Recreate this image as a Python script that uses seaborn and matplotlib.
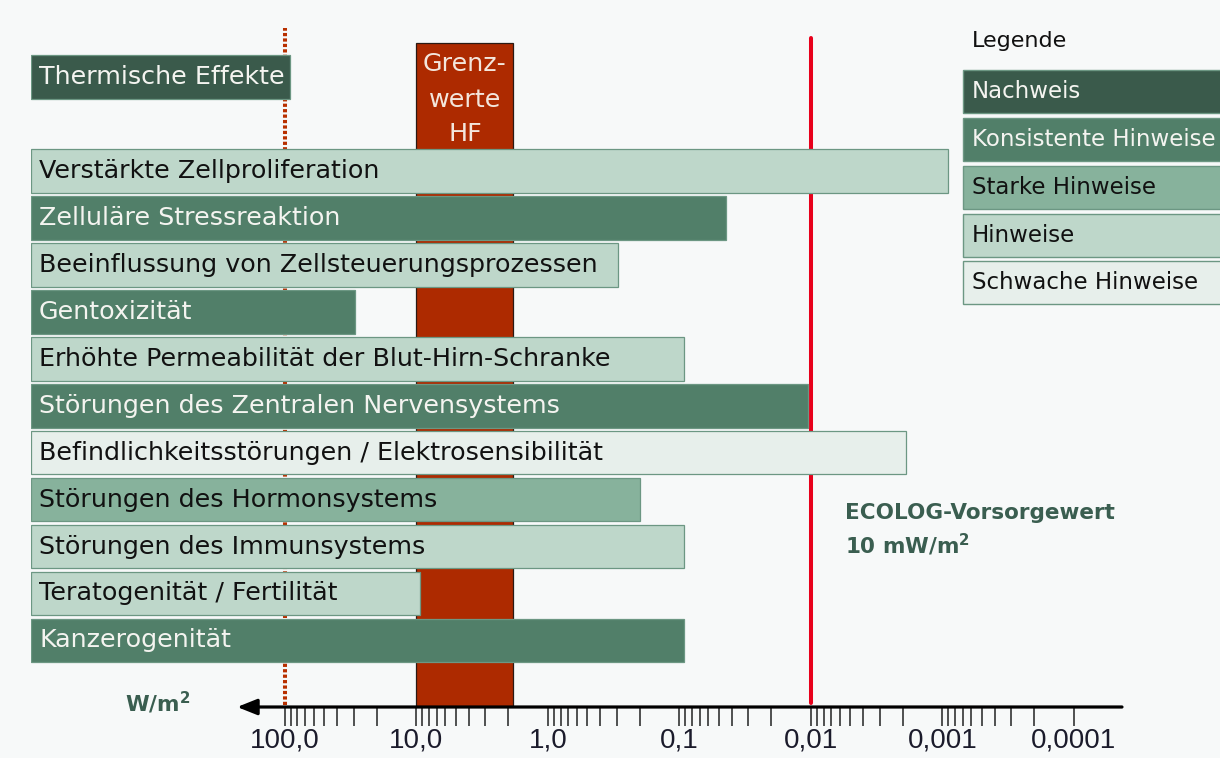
import matplotlib
matplotlib.use("Agg")
import matplotlib.pyplot as plt
from matplotlib.patches import Rectangle
from matplotlib.ticker import FixedLocator, FixedFormatter, NullFormatter
import pandas as pd
import seaborn as sns

# ------------------------------------------------------------
# Daten (Schwellenwerte in W/m²)
# ------------------------------------------------------------
effekte = [
    "Thermische Effekte",
    "Verstärkte Zellproliferation",
    "Zelluläre Stressreaktion",
    "Beeinflussung von Zellsteuerungsprozessen",
    "Gentoxizität",
    "Erhöhte Permeabilität der Blut-Hirn-Schranke",
    "Störungen des Zentralen Nervensystems",
    "Befindlichkeitsstörungen / Elektrosensibilität",
    "Störungen des Hormonsystems",
    "Störungen des Immunsystems",
    "Teratogenität / Fertilität",
    "Kanzerogenität",
]
schwelle = [92, 0.0009, 0.044, 0.29, 29, 0.092, 0.0105, 0.0019, 0.2, 0.092, 9.4, 0.092]
evidenz = [
    "Nachweis", "Hinweise", "Konsistente Hinweise", "Hinweise",
    "Konsistente Hinweise", "Hinweise", "Konsistente Hinweise",
    "Schwache Hinweise", "Starke Hinweise", "Hinweise", "Hinweise",
    "Konsistente Hinweise",
]

stufen = ["Nachweis", "Konsistente Hinweise", "Starke Hinweise", "Hinweise", "Schwache Hinweise"]
stufen_farben = ["#3a5a4b", "#517f69", "#87b29c", "#bed7ca", "#e7efeb"]
stufen_schrift = ["#f4f4f0", "#f4f4f0", "#111111", "#111111", "#111111"]

grenzwerte_hf = (10.0, 1.85)
ecolog_wert = 0.01
thermisch = 100.0
tick_werte = [100, 10, 1, 0.1, 0.01, 0.001, 0.0001]
tick_labels = ["100,0", "10,0", "1,0", "0,1", "0,01", "0,001", "0,0001"]

# Achsenbereich (linker Rand der Balken bis Ende der Achse)
X_LEFT, X_RIGHT = 8500, 4.3e-5
BG = "#f7f9f9"
W, H = 1220, 758


def fx(px):
    return px / W


def fy(py):
    return 1 - py / H


sns.set_theme(style="white")
plt.rcParams["font.family"] = ["DejaVu Sans"]
plt.rcParams["mathtext.default"] = "regular"

fig = plt.figure(figsize=(12.2, 7.58), dpi=100, facecolor=BG)
ax = fig.add_axes([fx(31), fy(707), fx(1122 - 31), (707 - 20) / H])
ax.set_facecolor(BG)

df = pd.DataFrame({"effekt": effekte, "wert": schwelle, "stufe": evidenz})
# Balken laufen vom linken Rand (X_LEFT) bis zum Schwellenwert
df["breite"] = df["wert"] - X_LEFT
order = [effekte[0], " "] + effekte[1:]

sns.barplot(
    data=df, y="effekt", x="breite", hue="stufe",
    order=order, hue_order=stufen,
    palette=dict(zip(stufen, stufen_farben)), saturation=1,
    dodge=False, width=0.93, errorbar=None, legend=False,
    left=X_LEFT, edgecolor="#6c9783", linewidth=0.9, zorder=3, ax=ax,
)

ax.set_xscale("log")
ax.set_xlim(X_LEFT, X_RIGHT)
ax.set_ylim(13.42, -1.22)
ax.set_yticks([])
ax.set_xlabel("")
ax.set_ylabel("")
for s in ax.spines.values():
    s.set_visible(False)

# Achse: Dekaden + Zwischenstriche
minor = [m * 10.0 ** e for e in range(-4, 2) for m in range(2, 10)]
ax.xaxis.set_major_locator(FixedLocator(tick_werte))
ax.xaxis.set_major_formatter(FixedFormatter(tick_labels))
ax.xaxis.set_minor_locator(FixedLocator(minor))
ax.xaxis.set_minor_formatter(NullFormatter())
ax.tick_params(axis="x", which="both", bottom=True, direction="out",
               length=13.5, width=1.2, color="#333333", pad=1,
               labelsize=20, labelcolor="#1b1b2b")
for lbl in ax.get_xticklabels():
    lbl.set_fontfamily("Liberation Sans")

# Pfeil der Achse
ax.annotate("", xy=(230, 0), xycoords=ax.get_xaxis_transform(),
            xytext=(X_RIGHT, 0), textcoords=ax.get_xaxis_transform(),
            arrowprops=dict(arrowstyle="-|>,head_length=1.0,head_width=0.4",
                            color="black", lw=2.3, mutation_scale=12,
                            shrinkA=0, shrinkB=0),
            annotation_clip=False, zorder=4)

# Grenzwerte HF, thermische Schwelle, ECOLOG-Vorsorgewert
ax.axvspan(grenzwerte_hf[0], grenzwerte_hf[1], ymin=0, ymax=(707 - 43) / 687,
           facecolor="#ad2a00", edgecolor="#2b1a14", linewidth=0.9, zorder=1)
ax.axvline(thermisch, ymin=0.003, ymax=(707 - 28) / 687, color="#b83000",
           lw=2.9, linestyle=(0, (0.8, 0.55)), zorder=1)
ax.axvline(ecolog_wert, ymin=0.006, ymax=(707 - 38) / 687, color="#e8001b",
           lw=2.9, zorder=2)

# Beschriftung der Balken
schrift = dict(zip(stufen, stufen_schrift))
for i, name in enumerate(order):
    if not name.strip():
        continue
    st = df.loc[df["effekt"] == name, "stufe"].iloc[0]
    ax.text(8 / 1091, i, name, transform=ax.get_yaxis_transform(),
            ha="left", va="center", fontsize=18.3, color=schrift[st], zorder=5)

for txt, py in zip(["Grenz-", "werte", "HF"], [64, 100, 134]):
    fig.text(fx(465), fy(py), txt, ha="center", va="center",
             fontsize=18.3, color="#f3e6dc")

gruen = "#3a5e50"
fig.text(fx(845), fy(513), "ECOLOG-Vorsorgewert", fontsize=15.5,
         fontweight="bold", color=gruen, va="center")
fig.text(fx(845), fy(545), "10 mW/m$^2$", fontsize=15.5,
         fontweight="bold", color=gruen, va="center")
fig.text(fx(125), fy(703), "W/m$^2$", fontsize=15.5,
         fontweight="bold", color=gruen, va="center")

# Legende
fig.text(fx(972), fy(41), "Legende", fontsize=16, color="#111111", va="center")
tops = [70, 118, 166, 214, 261]
for st, farbe, sc, top in zip(stufen, stufen_farben, stufen_schrift, tops):
    fig.add_artist(Rectangle((fx(963), fy(top + 43)), fx(W - 963 + 5), 43 / H,
                             transform=fig.transFigure, facecolor=farbe,
                             edgecolor="#6c9783", linewidth=1.0))
    fig.text(fx(972), fy(top + 21.5), st, fontsize=16.5, color=sc, va="center")

fig.savefig("out.png", dpi=100, facecolor=BG)
